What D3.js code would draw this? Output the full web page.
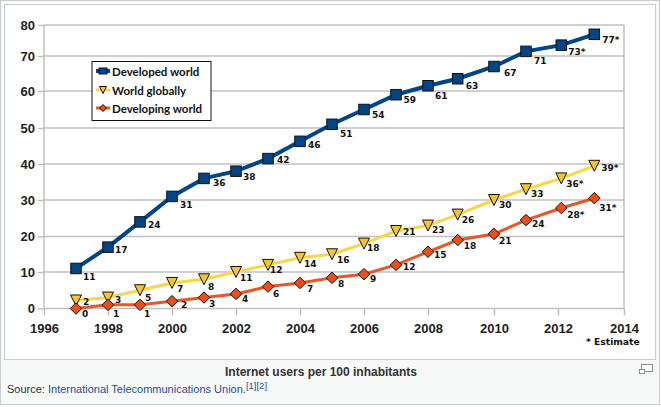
<!DOCTYPE html>
<html><head><meta charset="utf-8">
<script src="https://cdn.jsdelivr.net/npm/d3@7/dist/d3.min.js"></script>
<style>html,body{margin:0;padding:0;background:#fff}svg{display:block}</style>
</head><body><svg id="c" width="661" height="407"></svg>
<script>
const years=[1997,1998,1999,2000,2001,2002,2003,2004,2005,2006,2007,2008,2008.9,2010,2011,2012.1,2013.1];
const developed=[11,17,24,31,36,38,41.5,46.3,51,55,59,61.5,63.5,67,71.5,73.5,77];
const world=[2.2,3,5,7,8,10,12,14,15,18,21.5,23,26,30,33,36,39.5];
const developing=[0,1,1,2,3,4,6,7,8.4,9.4,12,15.7,19,20.7,24.5,27.8,30.5];
const developedLabels=["11","17","24","31","36","38","42","46","51","54","59","61","63","67","71","73*","77*"];
const worldLabels=["2","3","5","7","8","11","12","14","16","18","21","23","26","30","33","36*","39*"];
const developingLabels=["0","1","1","2","3","4","6","7","8","9","12","15","18","21","24","28*","31*"];
const xTicks=[1996,1998,2000,2002,2004,2006,2008,2010,2012,2014];
const yTicks=[0,10,20,30,40,50,60,70,80];
const legendNames=["Developed world","World globally","Developing world"];
const caption="Internet users per 100 inhabitants";
// layout only: axis calibration and per-label nudges away from each marker
const xPix=[44,108,172,236,300,364,428,494,558,624];
const yPix=[308.5,272,236.5,200,164,128,91,56,25];
const developedNudgeX=[7,7,8,8,9,7,9,8,8,8,7.5,7,8,10,8,7,8];
const developedNudgeY=[8.5,3,3,8,4,5,1,3,9,5,5,10,7,6,9,7,5];
const worldNudgeX=[7,7,5,5,4,4,2,4,5,3,7,4,4,5,5,5,7];
const worldNudgeY=[1.5,2,7,6,7,6,5,6,5,4,1,4,5,5,4,5,2];
const developingNudgeX=[6,5,4,9,5,6,5,7,6,6,7,6,6,5,6,6,5];
const developingNudgeY=[5,9,9,3,6,5,7,6,6,5,2,3,6,7,4,7,9];
const svg=d3.select("#c");
const x=d3.scaleLinear().domain(xTicks).range(xPix);
const y=d3.scaleLinear().domain(yTicks).range(yPix);
// page frame
svg.append("rect").attr("x",0.5).attr("y",0.5).attr("width",659).attr("height",404).attr("fill","#f8f9f9").attr("stroke","#c8ccd1");
svg.append("rect").attr("x",4.5).attr("y",4.5).attr("width",651).attr("height",355).attr("fill","#fff").attr("stroke","#c8ccd1");
const grid="#c0c0c0";
const axisY=d3.axisLeft(y).tickValues(yTicks).tickSize(6).tickPadding(3);
const axisX=d3.axisBottom(x).tickValues(xTicks).tickSize(7).tickPadding(8).tickFormat(d3.format("d"));
const gy=svg.append("g").attr("transform","translate(44,0)").call(axisY);
const gx=svg.append("g").attr("transform","translate(0,308.5)").call(axisX);
[gy,gx].forEach(g=>{g.select(".domain").remove();g.selectAll("line").attr("stroke",grid).attr("stroke-width",1.5);
 g.selectAll("text").attr("font-family","'Liberation Sans',Arial,sans-serif").attr("font-weight","bold").attr("font-size",13).attr("fill","#222");});
svg.append("g").selectAll("line").data(yTicks).join("line").attr("x1",44).attr("x2",624).attr("y1",d=>y(d)).attr("y2",d=>y(d)).attr("stroke",grid).attr("stroke-width",1.5);
svg.append("g").selectAll("line").data([44,624]).join("line").attr("x1",d=>d).attr("x2",d=>d).attr("y1",25).attr("y2",308.5).attr("stroke",grid).attr("stroke-width",1.5);
const line=d3.line().x((d,i)=>x(years[i])).y(d=>y(d));
const square=(g,s,col,stroke,h)=>{h=h||s;g.append("rect").attr("x",-s/2).attr("y",-h/2).attr("width",s).attr("height",h).attr("fill",col).attr("stroke",stroke).attr("stroke-width",1);};
const tri=(g,s,col,stroke)=>g.append("path").attr("d",`M${-s/2},${-s/2}L${s/2},${-s/2}L0,${s/2}Z`).attr("fill",col).attr("stroke",stroke).attr("stroke-width",1);
const diamond=(g,s,col,stroke)=>g.append("path").attr("d",`M0,${-s/2}L${s/2},0L0,${s/2}L${-s/2},0Z`).attr("fill",col).attr("stroke",stroke).attr("stroke-width",1);
const series=[
 {vals:world,labels:worldLabels,col:"#f9d648",mcol:"#f5c42c",w:3,m:tri,s:11,nx:worldNudgeX,ny:worldNudgeY},
 {vals:developing,labels:developingLabels,col:"#e8562a",mcol:"#f04e12",w:3,m:diamond,s:11.5,nx:developingNudgeX,ny:developingNudgeY},
 {vals:developed,labels:developedLabels,col:"#004586",mcol:"#004586",w:4,m:square,s:10.5,nx:developedNudgeX,ny:developedNudgeY}
];
series.forEach(S=>{
 svg.append("path").datum(S.vals).attr("d",line).attr("fill","none").attr("stroke",S.col).attr("stroke-width",S.w);
 S.vals.forEach((v,i)=>{const g=svg.append("g").attr("transform",`translate(${x(years[i])},${y(v)})`);S.m(g,S.s,S.mcol,"#111");});
});
series.forEach(S=>{
 svg.append("g").selectAll("text").data(S.vals).join("text").attr("x",(d,i)=>x(years[i])+S.nx[i]).attr("y",(d,i)=>y(d)+S.ny[i]+3.3).text((d,i)=>S.labels[i])
  .attr("font-family","'DejaVu Sans',sans-serif").attr("font-weight","bold").attr("font-size",9).attr("fill","#111");
});
// legend
svg.append("rect").attr("x",92).attr("y",61.5).attr("width",119).attr("height",59).attr("fill","#fff").attr("stroke","#111");
const legendStyles=[series[2],series[0],series[1]];
const legendY=[72,91,109];
legendNames.forEach((n,i)=>{const S=legendStyles[i];
 svg.append("line").attr("x1",96).attr("x2",110).attr("y1",legendY[i]-1).attr("y2",legendY[i]-1).attr("stroke",S.col).attr("stroke-width",S.w);
 const g=svg.append("g").attr("transform",`translate(103,${legendY[i]-1})`);S.m(g,i==0?8:7,S.mcol,"#111",6);
 svg.append("text").attr("x",112).attr("y",legendY[i]+4).text(n).attr("font-family","Lato,sans-serif").attr("font-weight","700").attr("font-size",11.5).attr("fill","#111");
});
svg.append("text").attr("x",586).attr("y",345).text("* Estimate").attr("font-family","'DejaVu Sans',sans-serif").attr("font-weight","bold").attr("font-size",9.2).attr("fill","#111");
svg.append("text").attr("x",321).attr("y",376).attr("text-anchor","middle").text(caption).attr("font-family","'Liberation Sans',sans-serif").attr("font-weight","bold").attr("font-size",12).attr("fill","#333");
const src=svg.append("text").attr("x",7).attr("y",393).attr("font-family","'Liberation Sans',sans-serif").attr("font-size",11).attr("fill","#333");
src.append("tspan").text("Source: ");
src.append("tspan").text("International Telecommunications Union.").attr("fill","#2a4b9d");
src.append("tspan").text("[1][2]").attr("fill","#2a4b9d").attr("font-size",9.5).attr("dy",-4);
// enlarge icon
const ic=svg.append("g").attr("fill","#fff").attr("stroke","#8a8f94");
ic.append("rect").attr("x",641.5).attr("y",364.5).attr("width",11).attr("height",7);
ic.append("rect").attr("x",639.5).attr("y",369.5).attr("width",5).attr("height",4);
</script></body></html>
